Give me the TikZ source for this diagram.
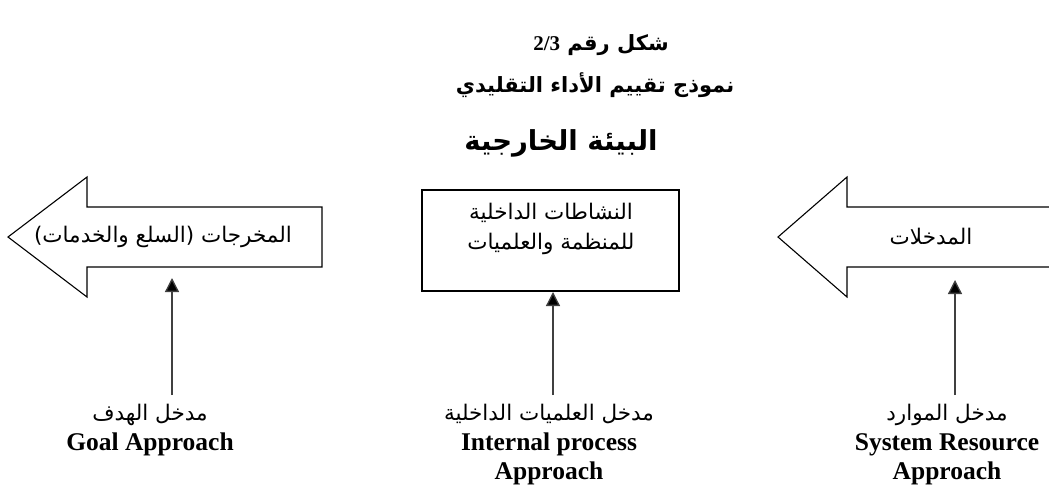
\documentclass[tikz,border=0pt]{standalone}
\usepackage{fontspec}
\setmainfont{Liberation Serif}
\newfontfamily\arabicfont[Script=Arabic]{DejaVu Sans}
\TeXXeTstate=1
\usetikzlibrary{%
	positioning,
	calc,
	arrows.meta
}

\begin{document}
\begin{tikzpicture}[x=1pt,y=-1pt,
		title/.style={font=\arabicfont\bfseries\fontsize{21}{26}\selectfont,inner sep=1pt},
		envtitle/.style={font=\arabicfont\bfseries\fontsize{27.5}{32}\selectfont,inner sep=1pt},
		bigarrow/.style={draw=black,line width=1.1pt,line join=miter},
		procbox/.style={draw=black,line width=1.8pt,minimum width=257pt,minimum height=101pt,inner sep=0pt},
		intext/.style={font=\arabicfont\fontsize{21.5}{30}\selectfont,align=center,inner sep=1pt},
		approach/.style={font=\fontsize{25.5}{29}\selectfont\bfseries,align=center,inner sep=0pt,anchor=north},
		feed/.style={draw=black!75,line width=1.3pt,shorten <=9pt,-{Triangle[length=14pt,width=14pt,fill=black]}}
	]
	\useasboundingbox (0,0) rectangle (1049,485);
	
	% titles
	\node(figno) [title] at (601,45) {\beginR شكل رقم \beginL{\rmfamily\bfseries 2/3}\endL\endR};
	\node(figname) [title] at (595,85) {\beginR نموذج تقييم الأداء التقليدي\endR};
	\node(env) [envtitle] at (561,143) {\beginR البيئة الخارجية\endR};
	
	% outputs
	\draw [bigarrow] (322,207) -- (87,207) -- (87,177) -- (8,237) -- (87,297) -- (87,267) -- (322,267) -- cycle;
	\node(outText) [intext] at (163,237) {\beginR المخرجات (السلع والخدمات)\endR};
	\coordinate (outFoot) at (172,278);
	
	% internal activities
	\node(core) [procbox] at (550.5,240.5) {};
	\node(coreText) [intext] at (551,229) {\beginR النشاطات الداخلية\endR\\\beginR للمنظمة والعلميات\endR};
	\coordinate (coreFoot) at (553,292);
	
	% inputs
	\draw [bigarrow] (1053,207) -- (847,207) -- (847,177) -- (778,237) -- (847,297) -- (847,267) -- (1053,267);
	\node(inText) [intext] at (931,237) {\beginR المدخلات\endR};
	\coordinate (inFoot) at (955,280);
	
	% approaches
	\node(goalLbl) [approach] at (150,404) {{\arabicfont\mdseries\fontsize{21.5}{29}\selectfont\beginR مدخل الهدف\endR}\\[1pt]Goal Approach};
	\node(procLbl) [approach] at (549,404) {{\arabicfont\mdseries\fontsize{21.5}{29}\selectfont\beginR مدخل العلميات الداخلية\endR}\\[1pt]Internal process\\Approach};
	\node(resLbl) [approach] at (947,404) {{\arabicfont\mdseries\fontsize{21.5}{29}\selectfont\beginR مدخل الموارد\endR}\\[1pt]System Resource\\Approach};
	
	\draw [feed] (goalLbl.north -| outFoot) -- (outFoot);
	\draw [feed] (procLbl.north -| coreFoot) -- (coreFoot);
	\draw [feed] (resLbl.north -| inFoot) -- (inFoot);
	
\end{tikzpicture}
\end{document}
